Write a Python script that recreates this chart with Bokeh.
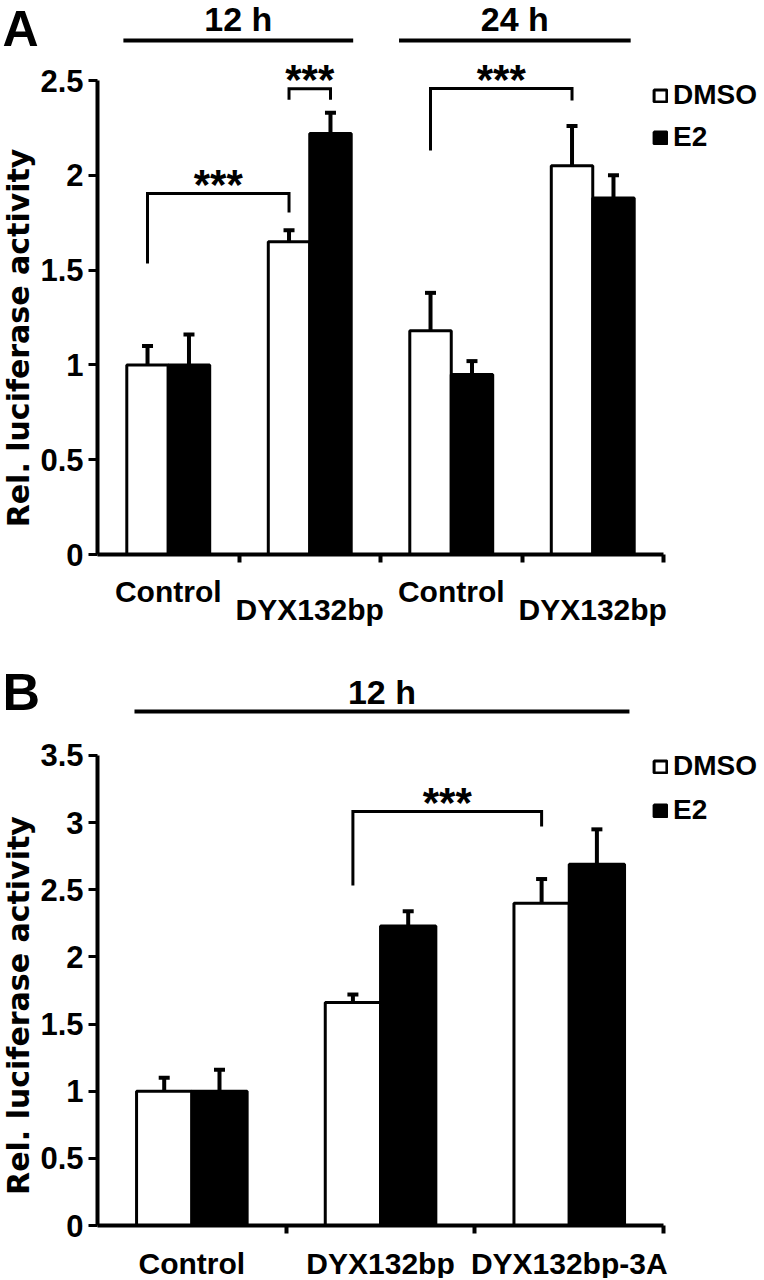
import math
from bokeh.plotting import figure
from bokeh.models import (ColumnDataSource, Range1d, LinearAxis, FixedTicker,
                          Whisker, TeeHead, Legend, LegendItem)
from bokeh.layouts import column
from bokeh.embed import file_html
from bokeh.resources import INLINE
from bokeh.core.properties import value

# ---------------- data ----------------
series = ["DMSO", "E2"]

groups_A = ["Control", "DYX132bp", "Control", "DYX132bp"]
dmso_A = [1.00, 1.65, 1.18, 2.05]
dmso_err_A = [0.10, 0.06, 0.20, 0.21]
e2_A = [1.00, 2.22, 0.95, 1.88]
e2_err_A = [0.16, 0.11, 0.07, 0.12]
yticks_A = [0, 0.5, 1, 1.5, 2, 2.5]
times_A = ["12 h", "24 h"]

groups_B = ["Control", "DYX132bp", "DYX132bp-3A"]
dmso_B = [1.00, 1.66, 2.40]
dmso_err_B = [0.10, 0.06, 0.18]
e2_B = [1.00, 2.23, 2.69]
e2_err_B = [0.16, 0.11, 0.26]
yticks_B = [0, 0.5, 1, 1.5, 2, 2.5, 3, 3.5]
times_B = ["12 h"]

# significance: (group L, series L, group R, series R, left foot, top, right foot, label)
sig_A = [(0, 0, 1, 0, 1.535, 1.904, 1.804, "***"),
         (1, 0, 1, 1, 2.398, 2.456, 2.398, "***"),
         (2, 0, 3, 0, 2.131, 2.458, 2.394, "***")]
sig_B = [(1, 0, 2, 0, 2.532, 3.083, 2.971, "***")]

y_label = "Rel. luciferase activity"

# ---------------- layout / style ----------------
FONT = "Liberation Sans"
BAR_W = 0.293
DODGE = 0.1465
FIG_W = 760

panels = [
    dict(letter="A", groups=groups_A, dmso=dmso_A, dmso_err=dmso_err_A, e2=e2_A,
         e2_err=e2_err_A, yticks=yticks_A, sig=sig_A, times=times_A,
         time_spans=[(0.183, 1.807), (2.131, 3.768)], time_line_y=2.711,
         x0=97, xu=141.5, y0=554, yu=189.6, top=0, height=640,
         letter_px=28.5, letter_size="50px", ylab_px=18, ylab_y=1.142,
         label_rows=[0, 1, 0, 1],
         label_standoff=20, legend_loc=(652, 487), legend_spacing=10,
         header_px=21),
    dict(letter="B", groups=groups_B, dmso=dmso_B, dmso_err=dmso_err_B, e2=e2_B,
         e2_err=e2_err_B, yticks=yticks_B, sig=sig_B, times=times_B,
         time_spans=[(0.196, 2.819)], time_line_y=3.8275,
         x0=97, xu=188.7, y0=1225, yu=134.29, top=640, height=638,
         letter_px=691.5, letter_size="52px", ylab_px=18, ylab_y=1.638,
         label_rows=[0, 0, 0],
         label_standoff=21, legend_loc=(652, 452), legend_spacing=12,
         header_px=20),
]


def bold_text(p, **kw):
    size = kw.pop("size")
    font = kw.pop("font", FONT)
    return p.text(text_font=value(font), text_font_style="bold",
                  text_font_size=size, text_color="black",
                  text_baseline="middle", **kw)


def build(c):
    n = len(c["groups"])
    xu, yu = c["xu"], c["yu"]
    x_start = (0 - c["x0"]) / xu
    x_end = (FIG_W - c["x0"]) / xu
    y_end = (c["y0"] - c["top"]) / yu
    y_start = (c["y0"] - (c["top"] + c["height"])) / yu

    p = figure(width=FIG_W, height=c["height"],
               x_range=Range1d(x_start, x_end), y_range=Range1d(y_start, y_end),
               x_axis_type=None, y_axis_type=None, tools="",
               toolbar_location=None, output_backend="svg", min_border=0,
               outline_line_color=None, background_fill_color="white",
               border_fill_color="white")

    renderers = []
    for s, (vals, errs, fill) in enumerate([(c["dmso"], c["dmso_err"], "white"),
                                            (c["e2"], c["e2_err"], "black")]):
        xs = [i + 0.5 + (DODGE if s else -DODGE) for i in range(n)]
        src = ColumnDataSource(dict(x=xs, top=vals,
                                    upper=[v + e for v, e in zip(vals, errs)]))
        w = Whisker(source=src, base="x", lower="top", upper="upper",
                    dimension="height", line_width=4, line_color="black",
                    upper_head=TeeHead(size=11, line_width=4, line_color="black"),
                    lower_head=None)
        p.add_layout(w)
        r = p.vbar(x="x", top="top", bottom=0, width=BAR_W, source=src,
                   fill_color=fill, line_color="black", line_width=3)
        renderers.append(r)

    # significance brackets
    bxs, bys, sx, sy, st = [], [], [], [], []
    for gl, sl, gr, sr, yl, yt, yr, lab in c["sig"]:
        xl = gl + 0.5 + (DODGE if sl else -DODGE)
        xr = gr + 0.5 + (DODGE if sr else -DODGE)
        bxs.append([xl, xl, xr, xr])
        bys.append([yl, yt, yt, yr])
        sx.append((xl + xr) / 2)
        sy.append(yt + 9 / yu)
        st.append(lab)
    p.multi_line(xs=bxs, ys=bys, line_width=3, line_color="black",
                 line_join="miter")
    bold_text(p, x=sx, y=sy, text=st, size="42px", text_align="center")

    # time headers
    for lab, (a, b) in zip(c["times"], c["time_spans"]):
        ly = c["time_line_y"]
        p.segment(x0=[a], y0=[ly], x1=[b], y1=[ly], line_width=4,
                  line_color="black")
        bold_text(p, x=[(a + b) / 2], y=[ly + c["header_px"] / yu], text=[lab],
                  size="34px", text_align="center")

    # panel letter
    bold_text(p, x=[x_start + 2 / xu], y=[(c["y0"] - c["letter_px"]) / yu],
              text=[c["letter"]], size=c["letter_size"], text_align="left")

    # y label
    bold_text(p, x=[(c["ylab_px"] - c["x0"]) / xu], y=[c["ylab_y"]],
              text=[y_label], size="30px", font="DejaVu Sans",
              angle=math.pi / 2, text_align="center")

    # axes
    yt = c["yticks"]
    yaxis = LinearAxis(ticker=FixedTicker(ticks=yt), bounds=(0, yt[-1]),
                       fixed_location=0,
                       major_label_overrides={t: f"{t:g}" for t in yt},
                       axis_line_width=4, axis_line_color="black",
                       major_tick_line_width=3, major_tick_line_color="black",
                       major_tick_out=9, major_tick_in=0,
                       minor_tick_out=0, minor_tick_in=0,
                       major_label_standoff=5,
                       major_label_text_font=FONT,
                       major_label_text_font_style="bold",
                       major_label_text_font_size="31px",
                       major_label_text_color="black")
    p.add_layout(yaxis, "left")

    bticks = list(range(1, n + 1))
    xaxis = LinearAxis(ticker=FixedTicker(ticks=bticks), bounds=(0, n),
                       fixed_location=0,
                       major_label_overrides={t: "" for t in bticks},
                       axis_line_width=4, axis_line_color="black",
                       major_tick_line_width=4, major_tick_line_color="black",
                       major_tick_out=8, major_tick_in=0,
                       minor_tick_out=0, minor_tick_in=0)
    p.add_layout(xaxis, "below")

    for row in sorted(set(c["label_rows"])):
        idx = [i for i in range(n) if c["label_rows"][i] == row]
        ticks = [i + 0.5 for i in idx]
        lax = LinearAxis(ticker=FixedTicker(ticks=ticks), fixed_location=0,
                         major_label_overrides={i + 0.5: c["groups"][i] for i in idx},
                         axis_line_color=None, major_tick_line_color=None,
                         major_tick_out=0, major_tick_in=0,
                         minor_tick_out=0, minor_tick_in=0,
                         major_label_standoff=c["label_standoff"] + 18 * row,
                         major_label_text_font=FONT,
                         major_label_text_font_style="bold",
                         major_label_text_font_size="30px",
                         major_label_text_color="black")
        p.add_layout(lax, "below")

    legend = Legend(items=[LegendItem(label=series[k], renderers=[renderers[k]])
                           for k in range(2)],
                    location=c["legend_loc"], orientation="vertical",
                    border_line_color=None, background_fill_alpha=0,
                    padding=0, margin=0, spacing=c["legend_spacing"],
                    label_standoff=5, glyph_width=16, glyph_height=15,
                    label_height=32,
                    label_text_font=FONT, label_text_font_style="bold",
                    label_text_font_size="28px", label_text_color="black",
                    label_text_baseline="middle")
    p.add_layout(legend)
    return p


figs = [build(c) for c in panels]
layout = column(*figs, spacing=0)
open("out.html", "w").write(file_html(layout, INLINE))
